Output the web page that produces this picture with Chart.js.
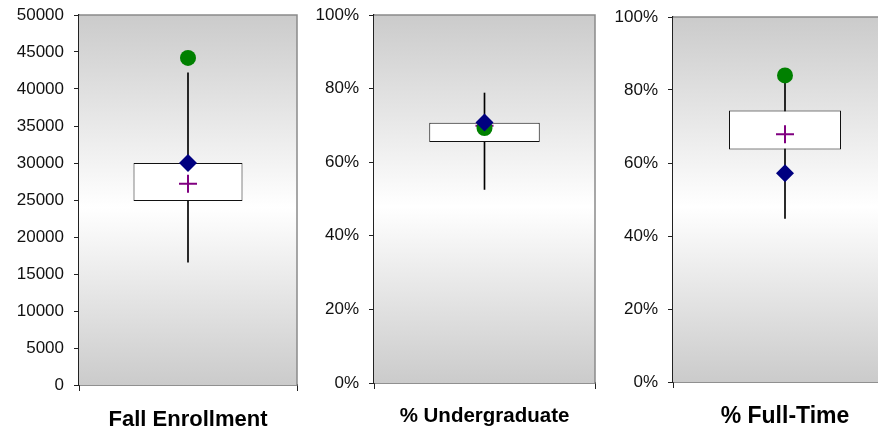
<!DOCTYPE html>
<html>
<head>
<meta charset="utf-8">
<script src="https://cdn.jsdelivr.net/npm/chart.js@4"></script>
<style>
  body { margin: 0; background: #fff; overflow: hidden; }
  #wrap { position: relative; width: 878px; height: 430px; overflow: hidden; }
  .panel { position: absolute; top: 0; height: 430px; }
</style>
</head>
<body>
<div id="wrap">
  <div class="panel" style="left:0px;width:308px"><canvas id="c0"></canvas></div>
  <div class="panel" style="left:300px;width:306px"><canvas id="c1"></canvas></div>
  <div class="panel" style="left:600px;width:308px"><canvas id="c2"></canvas></div>
</div>
<script>
// one entry per panel
const panelTitles = ["Fall Enrollment", "% Undergraduate", "% Full-Time"];
const whiskerLow = [16600, 52.6, 44.8];
const whiskerHigh = [42200, 78.8, 83.8];
const boxLow = [24850, 65.5, 63.7];
const boxHigh = [30000, 70.7, 74.4];
const meanValues = [27200, 69.9, 67.9];
const diamondValues = [30000, 70.8, 57.2];
const circleValues = [44200, 69.3, 84.0];
const yMax = [50000, 100, 100];
const yStep = [5000, 20, 20];
const isPercent = [false, true, true];

// layout per panel (pixels)
const yAxisWidth = [79, 74, 73];
const padTop = [15, 15, 17];
const padRight = [3, 3, 8];
const xAxisHeight = [45, 47, 48];
const titleSize = [22, 20.5, 23];
const titlePad = [16, 15, 15];

const fontFamily = "Arial, 'Liberation Sans', sans-serif";

const plotBg = {
    id: "plotBg",
    beforeDatasetsDraw(chart) {
        const a = chart.chartArea;
        const ctx = chart.ctx;
        const g = ctx.createLinearGradient(0, a.top, 0, a.bottom);
        g.addColorStop(0, "#cbcbcb");
        g.addColorStop(0.52, "#ffffff");
        g.addColorStop(1, "#cbcbcb");
        ctx.save();
        ctx.fillStyle = g;
        ctx.fillRect(a.left, a.top, a.right - a.left, a.bottom - a.top);
        ctx.strokeStyle = "#8a8a8a";
        ctx.lineWidth = 1.5;
        ctx.beginPath();
        ctx.moveTo(a.left, a.top);
        ctx.lineTo(a.right, a.top);
        ctx.lineTo(a.right, a.bottom);
        ctx.stroke();
        ctx.restore();
    },
};

function makePanel(i) {
    const canvas = document.getElementById("c" + i);
    canvas.width = canvas.parentNode.clientWidth;
    canvas.height = 430;
    return new Chart(canvas.getContext("2d"), {
        type: "bar",
        data: {
            labels: [panelTitles[i]],
            datasets: [
                {
                    type: "bar",
                    data: [[whiskerLow[i], whiskerHigh[i]]],
                    backgroundColor: "#000000",
                    barThickness: 1,
                    grouped: false,
                    order: 5,
                },
                {
                    type: "bar",
                    data: [[boxLow[i], boxHigh[i]]],
                    backgroundColor: "#ffffff",
                    borderColor: "#111111",
                    borderWidth: 1,
                    borderSkipped: false,
                    barPercentage: 0.5,
                    categoryPercentage: 1,
                    grouped: false,
                    order: 4,
                },
                {
                    type: "line",
                    data: [meanValues[i]],
                    showLine: false,
                    pointStyle: "cross",
                    pointRadius: 9,
                    pointBorderWidth: 2,
                    pointBorderColor: "#800080",
                    order: 3,
                },
                {
                    type: "line",
                    data: [circleValues[i]],
                    showLine: false,
                    pointStyle: "circle",
                    pointRadius: 8,
                    pointBorderWidth: 0,
                    pointBackgroundColor: "#008000",
                    order: 2,
                },
                {
                    type: "line",
                    data: [diamondValues[i]],
                    showLine: false,
                    pointStyle: "rectRot",
                    pointRadius: 9,
                    pointBorderWidth: 0,
                    pointBackgroundColor: "#000080",
                    order: 1,
                },
            ],
        },
        options: {
            responsive: false,
            animation: false,
            layout: { padding: { top: padTop[i], right: padRight[i], left: 0, bottom: 0 } },
            plugins: { legend: { display: false }, tooltip: { enabled: false } },
            scales: {
                x: {
                    offset: true,
                    grid: { offset: true, drawOnChartArea: false, tickLength: 6, color: "#222" },
                    border: { color: "#222", width: 1.5 },
                    ticks: {
                        color: "#000",
                        padding: titlePad[i],
                        font: { family: fontFamily, size: titleSize[i], weight: "bold" },
                    },
                    afterFit(scale) { scale.height = xAxisHeight[i]; },
                },
                y: {
                    min: 0,
                    max: yMax[i],
                    grid: { drawOnChartArea: false, tickLength: 5, color: "#222" },
                    border: { color: "#222", width: 1.5 },
                    ticks: {
                        stepSize: yStep[i],
                        color: "#111",
                        padding: 10,
                        font: { family: fontFamily, size: 17 },
                        callback: (v) => (isPercent[i] ? v + "%" : String(v)),
                    },
                    afterFit(scale) {
                        scale.width = yAxisWidth[i];
                        scale.paddingTop = 0;
                        scale.paddingBottom = 0;
                    },
                },
            },
        },
        plugins: [plotBg],
    });
}

for (let i = 0; i < 3; i++) makePanel(i);
</script>
</body>
</html>
